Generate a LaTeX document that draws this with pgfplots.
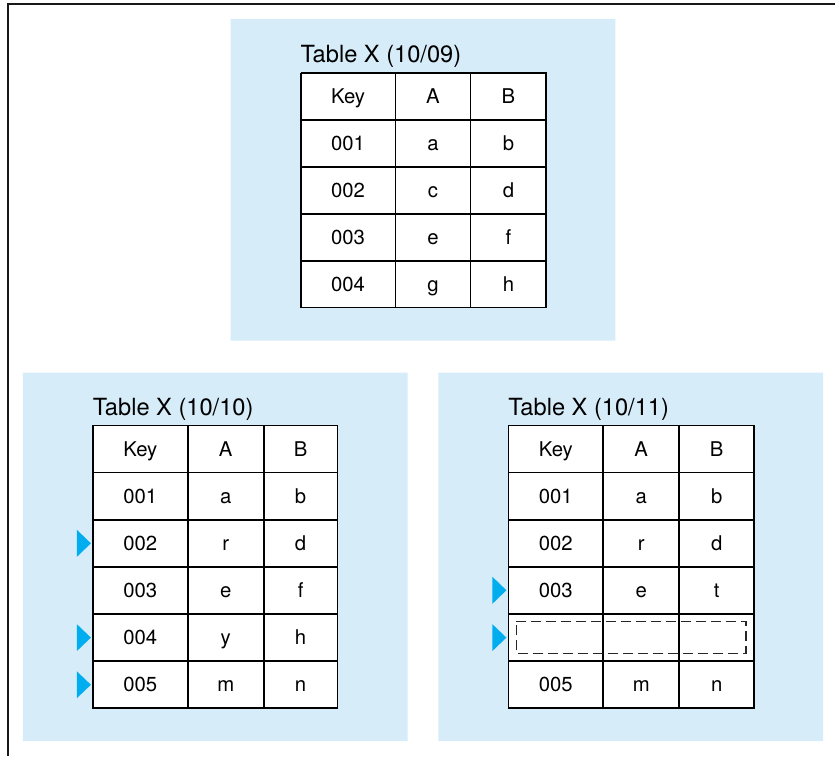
\documentclass[border=0pt]{standalone}
\usepackage{pgfplots}
\pgfplotsset{compat=1.18}
\usepackage{fontspec}
\setmainfont{TeX Gyre Heros}
\definecolor{panel}{HTML}{D6ECF9}
\definecolor{mark}{HTML}{00AEEF}
\newcommand\cellfont{\fontsize{12.2}{14}\selectfont}
\newcommand\titlefont{\fontsize{14.2}{16}\selectfont}
\tikzset{cell/.style={anchor=base, inner sep=0pt, outer sep=0pt, font=\cellfont},
         ttl/.style={anchor=base west, inner sep=0pt, outer sep=0pt, font=\titlefont}}
\begin{document}
\begin{tikzpicture}
\begin{axis}[scale only axis, width=501.6pt, height=454.2pt,
  xmin=0, xmax=836, ymin=0, ymax=757, y dir=reverse,
  hide axis, clip=false, unbounded coords=jump]
% page extent
\addplot[draw=none, mark=none] coordinates {(0,0) (836,0) (836,757) (0,757) (0,0)};
% frame
\addplot[line width=1.2pt, color=black!90, mark=none] coordinates {(8,757) (8,4) (836,4)};
% panels
\addplot[draw=none, fill=panel, mark=none] coordinates {(231,19) (616,19) (616,341) (231,341) (231,19)};
\addplot[draw=none, fill=panel, mark=none] coordinates {(23,373) (408,373) (408,742) (23,742) (23,373)};
\addplot[draw=none, fill=panel, mark=none] coordinates {(439,373) (824,373) (824,742) (439,742) (439,373)};
% table backgrounds + grids
\addplot[draw=black, line width=1.05pt, fill=white, mark=none] coordinates {(301,73) (547,73) (547,308) (301,308) (301,73)};
\addplot[black, line width=1.05pt, mark=none] coordinates {
 (396,73) (396,308) (nan,nan) (471,73) (471,308) (nan,nan)
 (301,120) (547,120) (nan,nan) (301,167) (547,167) (nan,nan)
 (301,214) (547,214) (nan,nan) (301,261) (547,261)};
\addplot[draw=black, line width=1.05pt, fill=white, mark=none] coordinates {(93,426) (338,426) (338,709) (93,709) (93,426)};
\addplot[black, line width=1.05pt, mark=none] coordinates {
 (188,426) (188,709) (nan,nan) (264,426) (264,709) (nan,nan)
 (93,473.2) (338,473.2) (nan,nan) (93,520.4) (338,520.4) (nan,nan)
 (93,567.6) (338,567.6) (nan,nan) (93,614.8) (338,614.8) (nan,nan)
 (93,662) (338,662)};
\addplot[draw=black, line width=1.05pt, fill=white, mark=none] coordinates {(509,426) (755,426) (755,709) (509,709) (509,426)};
\addplot[black, line width=1.05pt, mark=none] coordinates {
 (604,426) (604,709) (nan,nan) (680,426) (680,709) (nan,nan)
 (509,473.2) (755,473.2) (nan,nan) (509,520.4) (755,520.4) (nan,nan)
 (509,567.6) (755,567.6) (nan,nan) (509,614.8) (755,614.8) (nan,nan)
 (509,662) (755,662)};
% dashed placeholder
\addplot[black!85, line width=0.8pt, dash pattern=on 6pt off 3pt, mark=none] coordinates {(517,622) (747,622) (747,654) (517,654) (517,622)};
% triangles
\addplot[draw=none, fill=mark, mark=none] coordinates {(77,530.5) (91,544) (77,557.5) (77,530.5)};
\addplot[draw=none, fill=mark, mark=none] coordinates {(77,625) (91,638.4) (77,651.8) (77,625)};
\addplot[draw=none, fill=mark, mark=none] coordinates {(77,672.2) (91,685.6) (77,699) (77,672.2)};
\addplot[draw=none, fill=mark, mark=none] coordinates {(493,577.5) (507,591) (493,604.5) (493,577.5)};
\addplot[draw=none, fill=mark, mark=none] coordinates {(493,625) (507,638.4) (493,651.8) (493,625)};
% titles
\node[ttl] at (axis cs:301,63) {Table X (10/09)};
\node[ttl] at (axis cs:93,416) {Table X (10/10)};
\node[ttl] at (axis cs:509,416) {Table X (10/11)};
% top table text
\node[cell] at (axis cs:348.5,103.7) {Key};
\node[cell] at (axis cs:433.5,103.7) {A};
\node[cell] at (axis cs:509,103.7) {B};
\node[cell] at (axis cs:348.5,150.7) {001};
\node[cell] at (axis cs:433.5,150.7) {a};
\node[cell] at (axis cs:509,150.7) {b};
\node[cell] at (axis cs:348.5,197.7) {002};
\node[cell] at (axis cs:433.5,197.7) {c};
\node[cell] at (axis cs:509,197.7) {d};
\node[cell] at (axis cs:348.5,244.7) {003};
\node[cell] at (axis cs:433.5,244.7) {e};
\node[cell] at (axis cs:509,244.7) {f};
\node[cell] at (axis cs:348.5,291.7) {004};
\node[cell] at (axis cs:433.5,291.7) {g};
\node[cell] at (axis cs:509,291.7) {h};
% left table text
\node[cell] at (axis cs:140.5,456.8) {Key};
\node[cell] at (axis cs:226,456.8) {A};
\node[cell] at (axis cs:301,456.8) {B};
\node[cell] at (axis cs:140.5,504) {001};
\node[cell] at (axis cs:226,504) {a};
\node[cell] at (axis cs:301,504) {b};
\node[cell] at (axis cs:140.5,551.2) {002};
\node[cell] at (axis cs:226,551.2) {r};
\node[cell] at (axis cs:301,551.2) {d};
\node[cell] at (axis cs:140.5,598.4) {003};
\node[cell] at (axis cs:226,598.4) {e};
\node[cell] at (axis cs:301,598.4) {f};
\node[cell] at (axis cs:140.5,645.6) {004};
\node[cell] at (axis cs:226,645.6) {y};
\node[cell] at (axis cs:301,645.6) {h};
\node[cell] at (axis cs:140.5,692.8) {005};
\node[cell] at (axis cs:226,692.8) {m};
\node[cell] at (axis cs:301,692.8) {n};
% right table text
\node[cell] at (axis cs:556.5,456.8) {Key};
\node[cell] at (axis cs:642,456.8) {A};
\node[cell] at (axis cs:717.5,456.8) {B};
\node[cell] at (axis cs:556.5,504) {001};
\node[cell] at (axis cs:642,504) {a};
\node[cell] at (axis cs:717.5,504) {b};
\node[cell] at (axis cs:556.5,551.2) {002};
\node[cell] at (axis cs:642,551.2) {r};
\node[cell] at (axis cs:717.5,551.2) {d};
\node[cell] at (axis cs:556.5,598.4) {003};
\node[cell] at (axis cs:642,598.4) {e};
\node[cell] at (axis cs:717.5,598.4) {t};
\node[cell] at (axis cs:556.5,692.8) {005};
\node[cell] at (axis cs:642,692.8) {m};
\node[cell] at (axis cs:717.5,692.8) {n};
\end{axis}
\end{tikzpicture}
\end{document}
